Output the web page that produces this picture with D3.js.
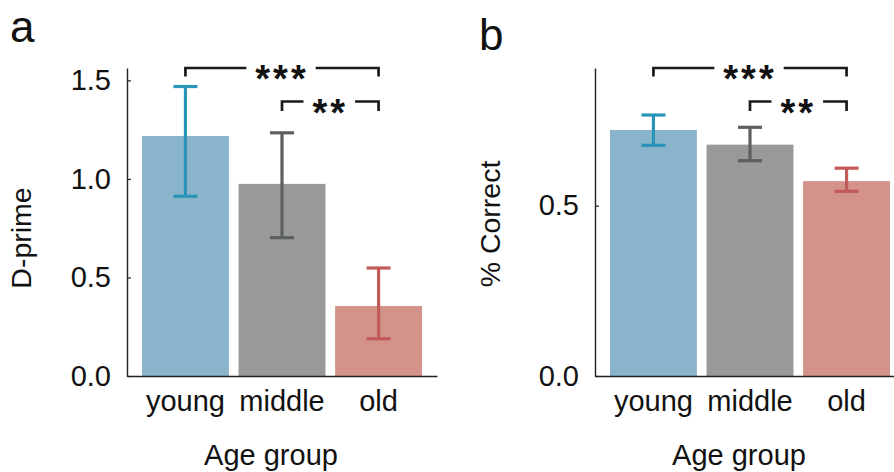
<!DOCTYPE html>
<html>
<head>
<meta charset="utf-8">
<script src="https://cdn.jsdelivr.net/npm/d3@7"></script>
<style>
  body { margin: 0; background: #fff; }
  svg { display: block; font-family: "Liberation Sans", Arial, sans-serif; }
</style>
</head>
<body>
<svg id="chart" width="894" height="472"></svg>
<script>
// data
var groups = ["young", "middle", "old"];
var dprimeMean = [1.218, 0.975, 0.355];
var dprimeLow  = [0.912, 0.702, 0.189];
var dprimeHigh = [1.469, 1.234, 0.548];
var correctMean = [0.722, 0.679, 0.572];
var correctLow  = [0.677, 0.632, 0.542];
var correctHigh = [0.766, 0.730, 0.610];
var dprimeTicks = [0, 0.5, 1.0, 1.5];
var correctTicks = [0, 0.5];
var sigFrom = ["young", "middle"];
var sigTo = ["old", "old"];
var sigLabel = ["***", "**"];

var barColor = {young: "#89b4cb", middle: "#999999", old: "#d4938a"};
var errColor = {young: "#2996b8", middle: "#5d6060", old: "#c25a5a"};

var svg = d3.select("#chart");

function drawPanel(opt) {
    var left = opt.left, right = opt.left + 310,
        top = 68, bottom = 376;
    var g = svg.append("g");

    var x = d3.scaleBand()
        .domain(groups)
        .range([left, right])
        .paddingInner(0.1)
        .paddingOuter(0.155);
    var y = d3.scaleLinear()
        .domain([0, opt.ymax])
        .range([bottom, top]);

    // bars
    g.selectAll("rect.bar")
        .data(groups)
        .enter().append("rect")
        .attr("class", "bar")
        .attr("x", function(d) { return x(d); })
        .attr("width", x.bandwidth())
        .attr("y", function(d, i) { return y(opt.mean[i]); })
        .attr("height", function(d, i) { return y(0) - y(opt.mean[i]); })
        .attr("fill", function(d) { return barColor[d]; });

    // error bars
    var cap = 12;
    groups.forEach(function(d, i) {
        var cx = x(d) + x.bandwidth() / 2;
        var eb = g.append("g")
            .attr("stroke", errColor[d])
            .attr("stroke-width", 3.2)
            .attr("fill", "none");
        eb.append("line")
            .attr("x1", cx).attr("x2", cx)
            .attr("y1", y(opt.low[i])).attr("y2", y(opt.high[i]));
        eb.append("line")
            .attr("x1", cx - cap).attr("x2", cx + cap)
            .attr("y1", y(opt.low[i])).attr("y2", y(opt.low[i]));
        eb.append("line")
            .attr("x1", cx - cap).attr("x2", cx + cap)
            .attr("y1", y(opt.high[i])).attr("y2", y(opt.high[i]));
    });

    // axes
    var yAxis = g.append("g")
        .attr("transform", "translate(" + left + ",0)")
        .call(d3.axisLeft(y)
            .tickValues(opt.ticks)
            .tickFormat(d3.format(".1f"))
            .tickSizeInner(-4)
            .tickSizeOuter(0)
            .tickPadding(16));
    var xAxis = g.append("g")
        .attr("transform", "translate(0," + bottom + ")")
        .call(d3.axisBottom(x)
            .tickSize(0)
            .tickPadding(14));
    [yAxis, xAxis].forEach(function(a) {
        a.select(".domain").attr("stroke", "#222").attr("stroke-width", 1.4);
        a.selectAll(".tick line").attr("stroke", "#222").attr("stroke-width", 1.2);
        a.selectAll(".tick text")
            .attr("fill", "#111")
            .style("font-size", "29px")
            .style("font-family", "'Liberation Sans', Arial, sans-serif");
    });

    // axis titles
    g.append("text")
        .attr("x", left + 144)
        .attr("y", 465)
        .attr("text-anchor", "middle")
        .attr("fill", "#111")
        .style("font-size", "29px")
        .text("Age group");
    g.append("text")
        .attr("transform", "translate(" + opt.ylabX + "," + opt.ylabY + ") rotate(-90)")
        .attr("text-anchor", "middle")
        .attr("fill", "#111")
        .style("font-size", "28.5px")
        .text(opt.ylabel);

    // panel letter
    g.append("text")
        .attr("x", opt.letterX)
        .attr("y", opt.letterY)
        .attr("fill", "#111")
        .style("font-size", "44px")
        .text(opt.letter);

    // significance brackets
    var bracketY = [68, 101.5];
    var tickLen = [8.5, 9.5];
    sigLabel.forEach(function(lab, i) {
        var x1 = x(sigFrom[i]) + x.bandwidth() / 2,
            x2 = x(sigTo[i]) + x.bandwidth() / 2,
            by = bracketY[i];
        var t = g.append("text")
            .attr("x", (x1 + x2) / 2)
            .attr("y", by + 24)
            .attr("text-anchor", "middle")
            .attr("fill", "#111")
            .style("font-size", "38px")
            .style("font-weight", "bold")
            .style("letter-spacing", "3px")
            .text(lab);
        var bb = t.node().getBBox();
        var path = d3.path();
        path.moveTo(x1, by + tickLen[i]);
        path.lineTo(x1, by);
        path.lineTo(bb.x - 9, by);
        path.moveTo(bb.x + bb.width + 7, by);
        path.lineTo(x2, by);
        path.lineTo(x2, by + tickLen[i]);
        g.append("path")
            .attr("d", path.toString())
            .attr("fill", "none")
            .attr("stroke", "#1a1a1a")
            .attr("stroke-width", 2.7);
    });
}

drawPanel({
    left: 127, ymax: 1.563, ticks: dprimeTicks,
    mean: dprimeMean, low: dprimeLow, high: dprimeHigh,
    ylabel: "D-prime", ylabX: 31, ylabY: 238,
    letter: "a", letterX: 10, letterY: 42
});
drawPanel({
    left: 595, ymax: 0.904, ticks: correctTicks,
    mean: correctMean, low: correctLow, high: correctHigh,
    ylabel: "% Correct", ylabX: 500, ylabY: 224,
    letter: "b", letterX: 479, letterY: 50
});
</script>
</body>
</html>
